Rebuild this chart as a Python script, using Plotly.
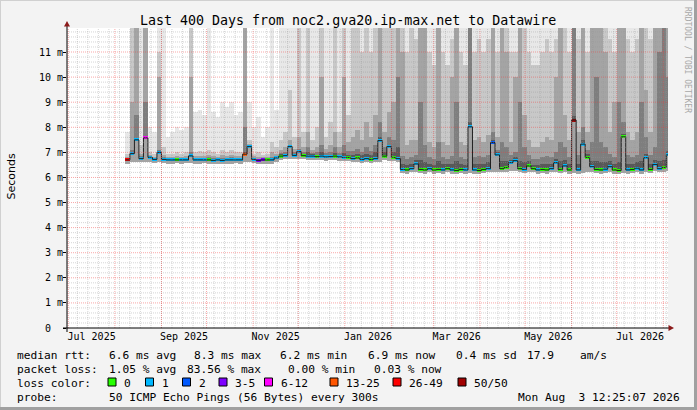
import plotly.graph_objects as go
import pandas as pd

# ---------------- data (values in ms) ----------------
col_start = pd.date_range("2025-08-08", periods=121, freq="3D")   # 3-day columns

median_ms = [
    6.70, 6.95, 7.50, 6.75, 7.58, 6.80, 6.72, 7.00, 6.72, 6.70,
    6.70, 6.70, 6.70, 6.70, 6.86, 6.70, 6.70, 6.70, 6.70, 6.68,
    6.70, 6.68, 6.70, 6.70, 6.70, 6.70, 6.93, 7.23, 6.72, 6.68,
    6.70, 6.70, 6.70, 6.78, 6.85, 6.87, 7.23, 6.88, 7.03, 6.87,
    6.85, 6.85, 6.83, 6.85, 6.82, 6.83, 6.85, 6.82, 6.80, 6.80,
    6.75, 6.78, 6.72, 6.75, 6.72, 6.75, 7.47, 6.85, 7.23, 6.80,
    6.75, 6.32, 6.30, 6.35, 6.54, 6.32, 6.30, 6.35, 6.30, 6.32,
    6.30, 6.35, 6.30, 6.28, 6.32, 6.30, 8.02, 6.30, 6.28, 6.32,
    6.35, 7.39, 6.90, 6.35, 6.40, 6.59, 6.67, 6.35, 6.32, 6.46,
    6.35, 6.30, 6.32, 6.30, 6.35, 6.59, 6.32, 6.46, 6.30, 8.29,
    6.30, 7.33, 6.80, 6.43, 6.32, 6.30, 6.33, 6.43, 6.30, 6.28,
    7.62, 6.30, 6.32, 6.37, 6.30, 6.79, 6.32, 6.52, 6.35, 6.40,
    6.90,
]

loss_idx = [
    6, 1, 1, 1, 4, 1, 1, 1, 1, 1,
    1, 0, 1, 1, 1, 1, 1, 1, 0, 1,
    1, 1, 1, 1, 1, 1, 5, 1, 1, 3,
    3, 0, 1, 1, 0, 1, 1, 1, 1, 0,
    1, 1, 0, 1, 1, 1, 0, 1, 1, 0,
    1, 0, 1, 1, 0, 1, 1, 0, 1, 0,
    1, 1, 0, 1, 1, 0, 0, 1, 0, 0,
    1, 0, 1, 0, 0, 1, 1, 1, 0, 0,
    1, 2, 1, 0, 0, 1, 1, 0, 1, 0,
    0, 1, 0, 0, 1, 1, 0, 1, 0, 7,
    1, 1, 0, 1, 0, 0, 1, 1, 0, 0,
    0, 1, 0, 1, 1, 1, 0, 1, 1, 0,
    1,
]

rtt_min = [
    6.55, 6.60, 6.62, 6.60, 6.62, 6.60, 6.57, 6.60, 6.57, 6.55,
    6.55, 6.56, 6.55, 6.56, 6.58, 6.55, 6.55, 6.56, 6.55, 6.53,
    6.55, 6.53, 6.55, 6.55, 6.56, 6.55, 6.60, 6.62, 6.57, 6.53,
    6.55, 6.55, 6.55, 6.62, 6.70, 6.72, 6.74, 6.73, 6.74, 6.72,
    6.70, 6.70, 6.68, 6.70, 6.67, 6.68, 6.70, 6.67, 6.65, 6.65,
    6.60, 6.62, 6.57, 6.60, 6.57, 6.60, 6.62, 6.68, 6.65, 6.65,
    6.60, 6.17, 6.15, 6.20, 6.20, 6.17, 6.15, 6.20, 6.15, 6.17,
    6.15, 6.20, 6.15, 6.13, 6.17, 6.15, 6.18, 6.15, 6.13, 6.17,
    6.20, 6.22, 6.20, 6.20, 6.22, 6.25, 6.25, 6.20, 6.17, 6.20,
    6.20, 6.15, 6.17, 6.15, 6.20, 6.20, 6.17, 6.20, 6.15, 6.18,
    6.15, 6.18, 6.20, 6.20, 6.17, 6.15, 6.18, 6.20, 6.15, 6.13,
    6.17, 6.15, 6.17, 6.20, 6.15, 6.20, 6.17, 6.25, 6.20, 6.22,
    6.25,
]

smoke_max = [
    7.8, 12, 12, 12, 12, 8.0, 7.8, 12, 12, 7.6,
    7.8, 8.0, 7.9, 8.0, 12, 8.6, 8.7, 8.5, 12, 8.6,
    8.4, 9.0, 8.8, 9.0, 8.5, 8.6, 12, 9.0, 8.0, 8.4,
    7.6, 8.0, 12, 8.7, 12, 12, 12, 12, 12, 12,
    12, 12, 12, 12, 12, 12, 12, 12, 12, 12,
    12, 12, 12, 12, 12, 12, 12, 12, 12, 12,
    12, 12, 12, 12, 12, 12, 12, 12, 12, 12,
    12, 12, 12, 12, 12, 12, 12, 12, 12, 12,
    12, 12, 12, 12, 12, 12, 12, 12, 12, 12,
    12, 12, 12, 12, 12, 12, 12, 12, 12, 12,
    12, 12, 12, 12, 12, 12, 12, 12, 12, 12,
    12, 12, 12, 12, 12, 12, 12, 12, 12, 12,
    12,
]

smoke_p90 = [
    6.95, 12, 12, 7.3, 12, 7.0, 6.95, 11, 7.2, 6.95,
    6.95, 7.0, 6.95, 7.0, 12, 7.0, 7.05, 7.0, 7.1, 7.0,
    6.95, 7.1, 7.0, 7.1, 7.0, 7.0, 12, 7.5, 6.95, 7.0,
    6.9, 6.95, 7.4, 7.2, 7.5, 7.8, 9.5, 7.6, 12, 7.8,
    12, 7.5, 8.0, 12, 7.6, 8.2, 12, 7.8, 12, 8.5,
    12, 12, 11, 12, 11, 12, 12, 12, 12, 12,
    12, 12, 11, 12, 11.5, 12, 12, 11, 10.5, 12,
    11, 10.5, 11.5, 12, 11, 10.5, 12, 11, 11.5, 11,
    11.5, 12, 11, 12, 12, 11, 11, 12, 12, 11,
    10.5, 10.5, 11, 11.5, 11, 11.5, 12, 12, 11, 12,
    11.5, 12, 11, 12, 12, 12, 12, 11.5, 11, 12,
    12, 11.5, 11, 11.5, 12, 12, 11.5, 12, 12, 12,
    12,
]

smoke_p80 = [
    6.82, 9.0, 12, 6.95, 12, 6.9, 6.82, 10, 6.9, 6.82,
    6.82, 6.85, 6.82, 6.85, 10, 6.85, 6.85, 6.85, 6.9, 6.85,
    6.82, 6.88, 6.85, 6.88, 6.85, 6.85, 12, 7.35, 6.85, 6.82,
    6.8, 6.82, 7.0, 6.95, 7.1, 7.2, 7.5, 7.15, 7.6, 7.2,
    7.8, 7.1, 7.2, 10, 7.15, 7.3, 7.8, 7.2, 10, 7.4,
    7.6, 7.9, 7.5, 8.2, 7.6, 8.5, 12, 7.8, 8.6, 9.0,
    12, 11, 7.3, 7.5, 7.5, 12, 12, 7.4, 7.2, 12,
    7.4, 7.3, 10, 12, 7.4, 7.3, 12, 7.5, 7.6, 7.4,
    7.7, 12, 7.6, 12, 11, 7.4, 10, 12, 8.5, 7.5,
    7.2, 7.2, 7.4, 7.6, 7.5, 10, 12, 8.5, 7.5, 12,
    7.8, 12, 7.8, 12, 12, 12, 11, 7.8, 9.0, 12,
    12, 7.8, 7.5, 7.8, 12, 9.5, 7.8, 12, 12, 12,
    12,
]

smoke_p70 = [
    6.77, 7.1, 8.5, 6.85, 9.0, 6.85, 6.78, 7.1, 6.8, 6.77,
    6.77, 6.78, 6.77, 6.78, 7.0, 6.78, 6.78, 6.78, 6.8, 6.77,
    6.76, 6.78, 6.77, 6.8, 6.77, 6.78, 8.0, 7.28, 6.78, 6.75,
    6.75, 6.76, 6.82, 6.86, 6.98, 7.0, 7.3, 7.0, 7.15, 7.0,
    7.2, 6.98, 7.0, 7.3, 6.97, 7.0, 7.2, 6.97, 7.3, 7.05,
    7.05, 7.15, 7.0, 7.2, 7.05, 7.3, 8.2, 7.2, 7.6, 7.5,
    10, 6.85, 6.75, 6.8, 6.9, 9.0, 7.3, 6.8, 6.75, 7.4,
    6.8, 6.75, 6.85, 9.0, 6.8, 6.75, 12, 6.8, 6.85, 6.8,
    6.9, 7.8, 7.1, 7.4, 7.2, 6.9, 7.0, 9.0, 7.2, 6.9,
    6.75, 6.75, 6.8, 6.85, 6.8, 7.0, 7.4, 7.2, 6.8, 12,
    6.9, 8.0, 7.1, 7.4, 10, 7.4, 7.2, 6.95, 6.8, 9.0,
    8.2, 6.9, 6.8, 6.9, 9.0, 7.6, 6.9, 7.2, 11, 12,
    10,
]

smoke_p60 = [
    6.74, 7.0, 7.55, 6.8, 7.65, 6.83, 6.75, 7.05, 6.76, 6.73,
    6.73, 6.74, 6.73, 6.74, 6.9, 6.74, 6.74, 6.74, 6.75, 6.72,
    6.73, 6.72, 6.74, 6.75, 6.74, 6.74, 7.0, 7.25, 6.75, 6.72,
    6.72, 6.73, 6.75, 6.82, 6.92, 6.93, 7.27, 6.93, 7.08, 6.92,
    7.0, 6.92, 6.9, 7.0, 6.88, 6.9, 6.98, 6.88, 6.98, 6.88,
    6.9, 6.95, 6.88, 6.95, 6.88, 7.0, 7.6, 7.0, 7.3, 7.0,
    7.2, 6.55, 6.5, 6.55, 6.7, 6.7, 6.6, 6.55, 6.5, 6.65,
    6.55, 6.55, 6.55, 6.65, 6.55, 6.5, 8.2, 6.55, 6.55, 6.55,
    6.6, 7.5, 7.0, 6.65, 6.65, 6.7, 6.8, 6.65, 6.6, 6.65,
    6.5, 6.5, 6.55, 6.55, 6.55, 6.75, 6.65, 6.7, 6.55, 8.45,
    6.55, 7.5, 6.95, 6.65, 6.65, 6.6, 6.6, 6.65, 6.55, 6.6,
    7.75, 6.55, 6.55, 6.6, 6.65, 6.95, 6.55, 6.7, 6.65, 6.7,
    7.05,
]

loss_colors = ["#26ff00", "#00b8ff", "#0059ff", "#7e00ff",
               "#ff00ff", "#ff5500", "#ff0000", "#a10000"]
loss_labels = ["0", "1", "2", "3-5", "6-12", "13-25", "26-49", "50/50"]

y_ticks = list(range(12))
y_ticktext = ["0\u00a0\u00a0"] + [f"{v}\u00a0m" for v in range(1, 12)]
label_months = ["2025-07", "2025-09", "2025-11", "2026-01", "2026-03", "2026-05", "2026-07"]

title = "Last 400 Days from noc2.gva20.ip-max.net to Datawire"
row1_items = ["median rtt:", "6.6 ms avg", "8.3 ms max", "6.2 ms min",
              "6.9 ms now", "0.4 ms sd", "17.9", "am/s"]
row2_items = ["packet loss:", "1.05 % avg", "83.56 % max", "0.00 % min", "0.03 % now"]
row3_head = "loss color:"
row4_items = ["probe:", "50 ICMP Echo Pings (56 Bytes) every 300s"]
stamp = "Mon Aug  3 12:25:07 2026"

# ---------------- geometry ----------------
W, H = 697, 410
L, R, T, B = 67, 668, 28, 328
X_LO, X_HI = "2025-06-30 03:14", "2026-08-04 03:14"
Y_TOP = 11.957
MONO = "DejaVu Sans Mono"


def PX(x):
    return (x - L) / (R - L)


def PY(y):
    return (B - y) / (B - T)


def nb(s):
    return s.replace(" ", "\u00a0")


step = pd.Timedelta(days=3)
centers = col_start + step / 2
width_ms = step.total_seconds() * 1000

fig = go.Figure()

# smoke bands (outer = lightest first)
bands = [
    (rtt_min, smoke_max, "#e8e8e8"),
    (rtt_min, smoke_p90, "#c8c8c8"),
    (rtt_min, smoke_p80, "#a4a4a4"),
    (median_ms, smoke_p70, "#7e7e7e"),
    (median_ms, smoke_p60, "#585858"),
]
for lo, hi, col in bands:
    fig.add_trace(go.Bar(
        x=centers, y=[h - l for l, h in zip(lo, hi)], base=lo,
        width=width_ms, marker=dict(color=col, line=dict(width=0)),
        hoverinfo="skip"))

# dark median line
fig.add_trace(go.Scatter(
    x=list(col_start) + [col_start[-1] + step], y=median_ms + [median_ms[-1]],
    mode="lines", line=dict(color="#202020", width=1, shape="hv"),
    hoverinfo="skip"))

# median coloured by loss
fig.add_trace(go.Bar(
    x=centers, y=[0.12] * len(median_ms), base=[m - 0.06 for m in median_ms],
    width=width_ms, marker=dict(color=[loss_colors[i] for i in loss_idx], line=dict(width=0)),
    hoverinfo="skip"))

# ---------------- grid (drawn above the data, like rrdtool) ----------------
shapes = []
minor_c = "rgba(150,150,150,0.4)"
major_c = "rgba(240,60,60,0.45)"
for d in pd.date_range("2025-06-30", "2026-08-04", freq="W-MON"):
    shapes.append(dict(type="line", xref="x", yref="paper", x0=d, x1=d, y0=0, y1=1,
                       line=dict(color=minor_c, width=1, dash="1px,1px"), layer="above"))
for k in range(1, 60):
    if k % 5:
        v = k * 0.2
        shapes.append(dict(type="line", xref="paper", yref="y", x0=0, x1=1, y0=v, y1=v,
                           line=dict(color=minor_c, width=1, dash="1px,1px"), layer="above"))
for d in pd.date_range("2025-07-01", "2026-08-01", freq="MS"):
    shapes.append(dict(type="line", xref="x", yref="paper", x0=d, x1=d, y0=0, y1=1,
                       line=dict(color=major_c, width=1, dash="1px,1px"), layer="above"))
for v in range(1, 12):
    shapes.append(dict(type="line", xref="paper", yref="y", x0=0, x1=1, y0=v, y1=v,
                       line=dict(color=major_c, width=1, dash="1px,1px"), layer="above"))

# axes lines + arrows
shapes.append(dict(type="line", xref="paper", yref="paper", x0=PX(63), x1=PX(670), y0=PY(328), y1=PY(328),
                   line=dict(color="#000000", width=1), layer="above"))
shapes.append(dict(type="line", xref="paper", yref="paper", x0=PX(67), x1=PX(67), y0=PY(332), y1=PY(25),
                   line=dict(color="#000000", width=1), layer="above"))
shapes.append(dict(type="path", xref="paper", yref="paper",
                   path=f"M {PX(64)},{PY(26.5)} L {PX(70)},{PY(26.5)} L {PX(67)},{PY(21)} Z",
                   fillcolor="#8b1a1a", line=dict(width=0), layer="above"))
shapes.append(dict(type="path", xref="paper", yref="paper",
                   path=f"M {PX(668.5)},{PY(325)} L {PX(668.5)},{PY(331)} L {PX(674)},{PY(328)} Z",
                   fillcolor="#8b1a1a", line=dict(width=0), layer="above"))

# frame (3D border)
shapes.append(dict(type="line", xref="paper", yref="paper", x0=PX(0.5), x1=PX(0.5), y0=PY(0), y1=PY(410),
                   line=dict(color="#d0d0d0", width=1), layer="above"))
shapes.append(dict(type="line", xref="paper", yref="paper", x0=PX(0), x1=PX(697), y0=PY(0.5), y1=PY(0.5),
                   line=dict(color="#d0d0d0", width=1), layer="above"))
shapes.append(dict(type="line", xref="paper", yref="paper", x0=PX(695.5), x1=PX(695.5), y0=PY(0), y1=PY(410),
                   line=dict(color="#a0a0a0", width=3), layer="above"))
shapes.append(dict(type="line", xref="paper", yref="paper", x0=PX(0), x1=PX(697), y0=PY(408.5), y1=PY(408.5),
                   line=dict(color="#a0a0a0", width=3), layer="above"))

# legend colour boxes
box_x = [108, 145.5, 182.5, 219, 264.5, 330, 393, 458]
for bx, col in zip(box_x, loss_colors):
    shapes.append(dict(type="rect", xref="paper", yref="paper",
                       x0=PX(bx), x1=PX(bx + 8), y0=PY(386), y1=PY(378),
                       fillcolor=col, line=dict(color="#000000", width=1), layer="above"))

# ---------------- texts ----------------
ann = []


def text(s, x, y, size=11.2, anchor="left", family=MONO, color="#000000", angle=0):
    ann.append(dict(text=nb(s), x=PX(x), y=PY(y), xref="paper", yref="paper",
                    xanchor=anchor, yanchor="middle", showarrow=False, borderpad=0,
                    textangle=angle, font=dict(family=family, size=size, color=color)))


text(title, 348, 20.5, size=13.3, anchor="center")
text("Seconds", 10.5, 177, size=11, anchor="center", family="DejaVu Sans", angle=-90)
text("RRDTOOL / TOBI OETIKER", 688, 60, size=8, anchor="center", color="#a8a8a8", angle=90)

for s, x in zip(row1_items, [16, 108, 193, 279, 367, 455, 526, 579]):
    text(s, x, 355)
for s, x in zip(row2_items, [16, 108, 186, 287, 373]):
    text(s, x, 369)
text(row3_head, 16, 383)
label_x = [123, 160.5, 197.5, 234, 279.5, 345, 408, 473]
for lx, lab in zip(label_x, loss_labels):
    text(lab, lx, 383)
for s, x in zip(row4_items, [16, 108]):
    text(s, x, 397.5)
text(stamp, 681, 397.5, anchor="right")

# x tick labels centred in the month
tickvals = []
for m in label_months:
    s = pd.Timestamp(m + "-01")
    e = s + pd.offsets.MonthBegin(1)
    tickvals.append(s + (e - s) / 2)
ticktext = [pd.Timestamp(m + "-01").strftime("%b %Y") for m in label_months]

fig.update_layout(
    width=W, height=H,
    margin=dict(l=L, r=W - R, t=T, b=H - B, pad=0),
    paper_bgcolor="#f3f3f3", plot_bgcolor="#ffffff",
    barmode="overlay", bargap=0, showlegend=False,
    font=dict(family=MONO, size=10, color="#000000"),
    xaxis=dict(type="date", range=[X_LO, X_HI], tickmode="array", tickvals=tickvals,
               ticktext=ticktext, ticks="", showgrid=False, zeroline=False, showline=False,
               ticklabelstandoff=1,
               tickfont=dict(family=MONO, size=10, color="#000000"), fixedrange=True),
    yaxis=dict(range=[0, Y_TOP], tickmode="array", tickvals=y_ticks, ticktext=y_ticktext,
               ticks="outside", ticklen=3, tickcolor="#000000", showgrid=False, zeroline=False,
               showline=False, ticklabelstandoff=-2,
               tickfont=dict(family=MONO, size=10, color="#000000"), fixedrange=True),
    shapes=shapes, annotations=ann,
)

fig.write_html("out.html", config={"displayModeBar": False},
               post_script="document.body.style.margin='0';document.body.style.padding='0';")
